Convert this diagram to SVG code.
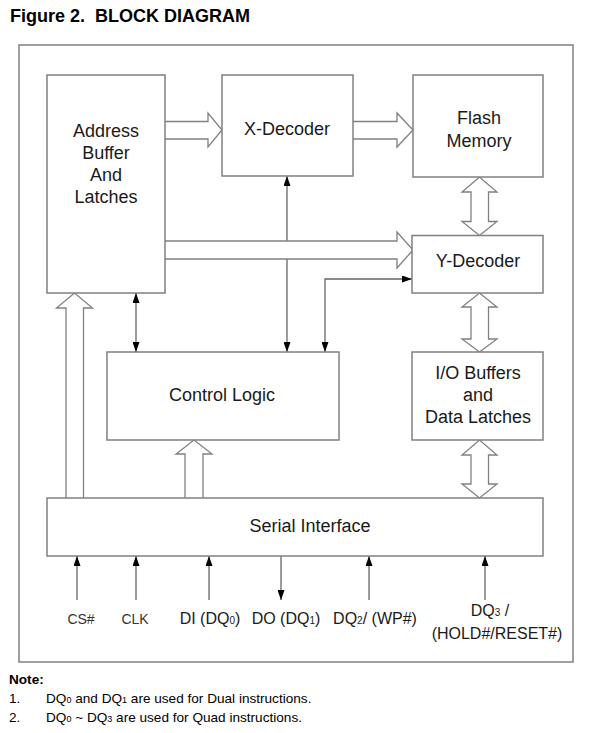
<svg xmlns="http://www.w3.org/2000/svg" width="594" height="733" viewBox="0 0 594 733">
<style>
.box{fill:#fff;stroke:#808080;stroke-width:1.5}
.frame{fill:none;stroke:#808080;stroke-width:1.5}
.blk{fill:#fff;stroke:#808080;stroke-width:1.3}
.ln{fill:none;stroke:#666;stroke-width:1.3}
.t{font-family:"Liberation Sans",Arial,sans-serif;font-size:18px;fill:#1a1a1a;text-anchor:middle}
.p{font-family:"Liberation Sans",Arial,sans-serif;font-size:16px;fill:#1a1a1a;text-anchor:middle}
.ps{font-family:"Liberation Sans",Arial,sans-serif;font-size:14px;fill:#333;text-anchor:middle}
.n{font-family:"Liberation Sans",Arial,sans-serif;font-size:13.6px;fill:#000}
.title{font-family:"Liberation Sans",Arial,sans-serif;font-size:18px;font-weight:bold;fill:#000}
</style>
<defs>
<marker id="ah" viewBox="0 0 10 7" refX="10" refY="3.5" markerWidth="10" markerHeight="7" markerUnits="userSpaceOnUse" orient="auto-start-reverse">
<path d="M0,0 L10,3.5 L0,7 z" fill="#000"/>
</marker>
</defs>
<text class="title" x="10" y="22" xml:space="preserve">Figure 2.  BLOCK DIAGRAM</text>
<rect class="frame" x="19" y="45" width="554" height="617"/>

<g id="connectors">
<path class="ln" d="M287,176 V352" marker-start="url(#ah)" marker-end="url(#ah)"/>
<path class="ln" d="M136,293 V352" marker-start="url(#ah)" marker-end="url(#ah)"/>
<path class="ln" d="M325,352 V279 H412" marker-start="url(#ah)" marker-end="url(#ah)"/>
<path class="blk" d="M165,121.5 H208 V113 L222,130 L208,147 V139 H165"/>
<path class="blk" d="M353,121.5 H397 V113 L413,130 L397,147 V139 H353"/>
<path class="blk" d="M165,241 H397 V232 L413,250 L397,268 V259 H165"/>
<path class="blk" d="M66,498 V308 H56.5 L74.5,293 L92.5,308 H83.5 V498"/>
<path class="blk" d="M185,498 V454 H176 L194,440 L212,454 H203 V498"/>
<path class="blk" d="M471,192 H462 L479.5,177 L497,192 H488.5 V221.5 H497 L479.5,235.5 L462,221.5 H471 Z"/>
<path class="blk" d="M471,307 H462 L479.5,293 L497,307 H488.5 V339 H497 L479.5,352 L462,339 H471 Z"/>
<path class="blk" d="M471,455 H462 L479.5,440 L497,455 H488.5 V484 H497 L479.5,498 L462,484 H471 Z"/>
<path class="ln" d="M77,600 V556" marker-end="url(#ah)"/>
<path class="ln" d="M136,600 V556" marker-end="url(#ah)"/>
<path class="ln" d="M209,600 V556" marker-end="url(#ah)"/>
<path class="ln" d="M281,556 V600" marker-end="url(#ah)"/>
<path class="ln" d="M369,600 V556" marker-end="url(#ah)"/>
<path class="ln" d="M485,600 V556" marker-end="url(#ah)"/>
</g>

<g id="address">
<rect class="box" x="47" y="75" width="118" height="218"/>
<text class="t" x="106" y="137">Address</text>
<text class="t" x="106" y="159">Buffer</text>
<text class="t" x="106" y="181">And</text>
<text class="t" x="106" y="203">Latches</text>
</g>
<g id="xdecoder">
<rect class="box" x="222" y="75" width="131" height="101"/>
<text class="t" x="287" y="135">X-Decoder</text>
</g>
<g id="flash">
<rect class="box" x="413" y="75" width="130" height="102"/>
<text class="t" x="479" y="124">Flash</text>
<text class="t" x="479" y="147">Memory</text>
</g>
<g id="ydecoder">
<rect class="box" x="412" y="235.5" width="131" height="57.5"/>
<text class="t" x="478" y="267">Y-Decoder</text>
</g>
<g id="iobuffers">
<rect class="box" x="412" y="352" width="131" height="88"/>
<text class="t" x="478" y="379">I/O Buffers</text>
<text class="t" x="478" y="401">and</text>
<text class="t" x="478" y="423">Data Latches</text>
</g>
<g id="control">
<rect class="box" x="107" y="352" width="232" height="88"/>
<text class="t" x="222" y="401">Control Logic</text>
</g>
<g id="serial">
<rect class="box" x="47" y="498" width="496" height="58"/>
<text class="t" x="310" y="532">Serial Interface</text>
</g>

<g id="pins">
<text class="ps" x="81" y="624">CS#</text>
<text class="ps" x="135" y="624">CLK</text>
<text class="p" x="210" y="624">DI (DQ<tspan font-size="10">0</tspan>)</text>
<text class="p" x="286" y="624">DO (DQ<tspan font-size="10">1</tspan>)</text>
<text class="p" x="375" y="624">DQ<tspan font-size="10">2</tspan>/ (WP#)</text>
<text class="p" x="490" y="616">DQ<tspan font-size="10">3</tspan> /</text>
<text class="p" x="497" y="639">(HOLD#/RESET#)</text>
</g>

<g id="notes">
<text class="n" x="9" y="684" font-weight="bold">Note:</text>
<text class="n" x="9" y="703">1.</text>
<text class="n" x="46" y="703">DQ<tspan font-size="9">0</tspan> and DQ<tspan font-size="9">1</tspan> are used for Dual instructions.</text>
<text class="n" x="9" y="722">2.</text>
<text class="n" x="46" y="722">DQ<tspan font-size="9">0</tspan> ~ DQ<tspan font-size="9">3</tspan> are used for Quad instructions.</text>
</g>
</svg>
